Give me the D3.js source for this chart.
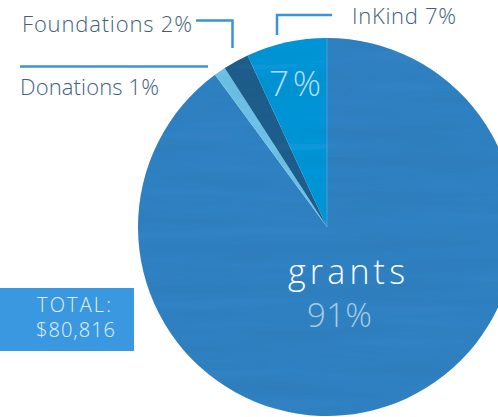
<!DOCTYPE html>
<html>
<head>
<meta charset="utf-8">
<script src="https://cdn.jsdelivr.net/npm/d3@7"></script>
<style>
  body { margin: 0; background: #fff; }
  svg { display: block; }
  text { font-family: 'Open Sans', Lato, sans-serif; font-weight: 300; }
</style>
</head>
<body>
<svg width="498" height="417"></svg>
<script>
/* revenue pie */

// DATA ///////////////////////////////////////////////////////////////////////
const categories = ['grants', 'Donations', 'Foundations', 'InKind'];
const shares = [0.899, 0.010, 0.022, 0.069];
const pctLabels = ['91%', '1%', '2%', '7%'];
const totalLabel = ['TOTAL:', '$80,816'];

// SET PARAMETERS //////////////////////////////////////////////////////////////
const svg = d3.select('svg');
const cx = 327, cy = 227, radius = 189;
const colors = d3.scaleOrdinal()
  .domain(categories)
  .range(['#3282c3', '#6ec3e8', '#235f8c', '#0a96d8']);
const lineColor = '#3c91dc';
const textColor = '#3f5f80';

// watercolor-ish streaks
const defs = svg.append('defs');
const filt = defs.append('filter').attr('id', 'streak')
  .attr('x', 0).attr('y', 0).attr('width', 1).attr('height', 1);
filt.append('feTurbulence')
  .attr('type', 'fractalNoise')
  .attr('baseFrequency', '0.006 0.07')
  .attr('numOctaves', 2)
  .attr('seed', 3)
  .attr('result', 'noise');
filt.append('feColorMatrix')
  .attr('in', 'noise')
  .attr('type', 'matrix')
  .attr('values', '0 0 0 0 0  0 0 0 0 0.05  0 0 0 0 0.15  0 0 0 0.2 -0.06')
  .attr('result', 'tint');
filt.append('feComposite')
  .attr('in', 'tint').attr('in2', 'SourceGraphic').attr('operator', 'in')
  .attr('result', 'tintClip');
const merge = filt.append('feMerge');
merge.append('feMergeNode').attr('in', 'SourceGraphic');
merge.append('feMergeNode').attr('in', 'tintClip');

const pie = d3.pie().sort(null).value(d => d.v);
const arc = d3.arc().innerRadius(0).outerRadius(radius);
const data = categories.map((c, i) => ({ c, v: shares[i], p: pctLabels[i] }));
const arcs = pie(data);

// fit a label to the width it has in the picture
function fit(sel, w) {
  sel.each(function () {
    const cur = this.getComputedTextLength();
    const n = this.textContent.length;
    if (n > 1) d3.select(this).style('letter-spacing', `${(w - cur) / (n - 1)}px`);
  });
}

// DRAW ///////////////////////////////////////////////////////////////////////
const g = svg.append('g').attr('transform', `translate(${cx},${cy})`);

g.selectAll('path.slice')
  .data(arcs)
  .enter()
  .append('path')
  .attr('class', 'slice')
  .attr('d', arc)
  .attr('fill', d => colors(d.data.c))
  .attr('filter', 'url(#streak)');

// thin light seam at 12 o'clock
g.append('line')
  .attr('x1', 0).attr('y1', 0).attr('x2', 0).attr('y2', -radius)
  .attr('stroke', '#6aaee0').attr('stroke-width', 0.8).attr('opacity', 0.7);

// in-slice labels
g.append('text')
  .attr('x', -39).attr('y', 57)
  .style('font-size', '34px')
  .attr('fill', '#ffffff')
  .text(categories[0])
  .call(fit, 117);
g.append('text')
  .attr('x', -20).attr('y', 100)
  .style('font-size', '33px')
  .attr('fill', '#a8cbe6')
  .text(pctLabels[0])
  .call(fit, 65);
g.append('text')
  .attr('x', -58).attr('y', -131)
  .style('font-size', '35px')
  .attr('fill', '#b3def5')
  .text(pctLabels[3])
  .call(fit, 52);

// callouts
const callouts = svg.append('g')
  .attr('fill', 'none')
  .attr('stroke', lineColor)
  .attr('stroke-width', 2.5);
callouts.append('path').attr('d', 'M196,20.5H232.5V48');
callouts.append('path').attr('d', 'M332,15H277V35');
callouts.append('path').attr('d', 'M20,66.5H208');

svg.append('text').attr('x', 22).attr('y', 32)
  .style('font-size', '22px').attr('fill', textColor)
  .text(`${categories[2]} ${pctLabels[2]}`)
  .call(fit, 170);
svg.append('text').attr('x', 352).attr('y', 24)
  .style('font-size', '22px').attr('fill', textColor)
  .text(`${categories[3]} ${pctLabels[3]}`)
  .call(fit, 104);
svg.append('text').attr('x', 20).attr('y', 95)
  .style('font-size', '22px').attr('fill', textColor)
  .text(`${categories[1]} ${pctLabels[1]}`)
  .call(fit, 139);

// total box
svg.append('rect')
  .attr('x', 0).attr('y', 288).attr('width', 134).attr('height', 63)
  .attr('fill', '#3a98e0');
svg.selectAll('text.total')
  .data(totalLabel)
  .enter()
  .append('text')
  .attr('class', 'total')
  .attr('x', (d, i) => [37, 36][i])
  .attr('y', (d, i) => [312, 337][i])
  .style('font-size', '20px')
  .attr('fill', '#e3f1fc')
  .text(d => d)
  .each(function (d, i) { fit(d3.select(this), [74, 79][i]); });
</script>
</body>
</html>
